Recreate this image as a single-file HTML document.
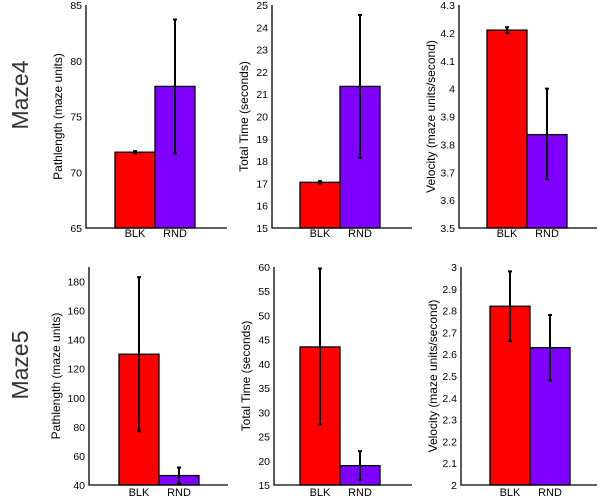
<!DOCTYPE html>
<html><head><meta charset="utf-8"><style>
body{margin:0;background:#fff}
svg{display:block;font-family:"Liberation Sans",Arial,sans-serif}
</style></head><body>
<svg id="c" width="600" height="502" xmlns="http://www.w3.org/2000/svg">
<text x="28" y="95" font-size="23" fill="#333" text-anchor="middle" transform="rotate(-90 28 95)">Maze4</text>
<text x="28" y="365" font-size="23" fill="#333" text-anchor="middle" transform="rotate(-90 28 365)">Maze5</text>
</svg>
<script>
const categories = ["BLK","RND"];
const titles = ["Pathlength (maze units)","Total Time (seconds)","Velocity (maze units/second)","Pathlength (maze units)","Total Time (seconds)","Velocity (maze units/second)"];
const means = [[71.8,77.7],[17.05,21.35],[4.21,3.835],[130,46.5],[43.5,19],[2.82,2.63]];
const errLow = [[71.7,71.7],[17.0,18.15],[4.2,3.675],[77,41],[27.5,16],[2.66,2.48]];
const errHigh = [[71.9,83.7],[17.1,24.55],[4.22,4.0],[183,52],[59.7,22],[2.98,2.78]];
const yMin = [65,15,3.5,40,15,2];
const yMax = [85,25,4.3,190,60,3];
const yStep = [5,1,0.1,20,5,0.1];
const tickStart = [65,15,3.5,40,15,2];
const tickEnd = [85,25,4.3,180,60,3];
const colors = ["#ff0000","#7f00ff"];

const svg = document.getElementById('c');
const NS = "http://www.w3.org/2000/svg";
const panelX = [[86,227,115,-24],[272,412,300,-24],[459,597,487,-24],[89,228,119,-29],[274,412,300,-24],[461,597,490,-24]];
const rowY = [[5,228,237],[267,485,496]];
function mk(t,a){const e=document.createElementNS(NS,t);for(const k in a)e.setAttribute(k,a[k]);svg.appendChild(e);return e;}
for(let p=0;p<6;p++){
  const row=Math.floor(p/3);
  const [ax,ax2,b0,toff]=panelX[p];const [yt,yb,ly]=rowY[row];
  const y=v=>yb-(v-yMin[p])/(yMax[p]-yMin[p])*(yb-yt);
  const bw=40;
  for(let i=0;i<categories.length;i++){
    const x=b0+i*bw;
    const r=mk('rect',{x:x,y:y(means[p][i]),width:bw,height:yb-y(means[p][i]),fill:colors[i],stroke:'#000','stroke-width':1.3});
    
    
    const cx=x+bw/2;
    const e=mk('path',{d:`M${cx},${y(errLow[p][i])}V${y(errHigh[p][i])}M${cx-2},${y(errLow[p][i])}h4M${cx-2},${y(errHigh[p][i])}h4`,stroke:'#000','stroke-width':2,fill:'none'});
    
    
    const t=mk('text',{x:cx,y:ly,'font-size':11,'text-anchor':'middle',fill:'#000'});
    t.textContent=categories[i];
    
    
  }
  const a=mk('path',{d:`M${ax},${yt}V${yb}H${ax2}`,stroke:'#000','stroke-width':1.3,fill:'none'});
  
  
  const dec=yStep[p]<1?1:0;
  for(let v=tickStart[p];v<=tickEnd[p]+1e-9;v+=yStep[p]){
    let s=(+v.toFixed(dec)).toString();
    const t=mk('text',{x:ax-4,y:y(v)+4,'font-size':10.5,'text-anchor':'end',fill:'#000'});
    t.textContent=s;
    
    
  }
  const lx=ax+toff,lyc=(yt+yb)/2;
  const tt=mk('text',{x:lx,y:lyc,'font-size':12,'text-anchor':'middle',fill:'#000',transform:`rotate(-90 ${lx} ${lyc})`});
  tt.textContent=titles[p];
  
  
}
</script>
</body></html>
